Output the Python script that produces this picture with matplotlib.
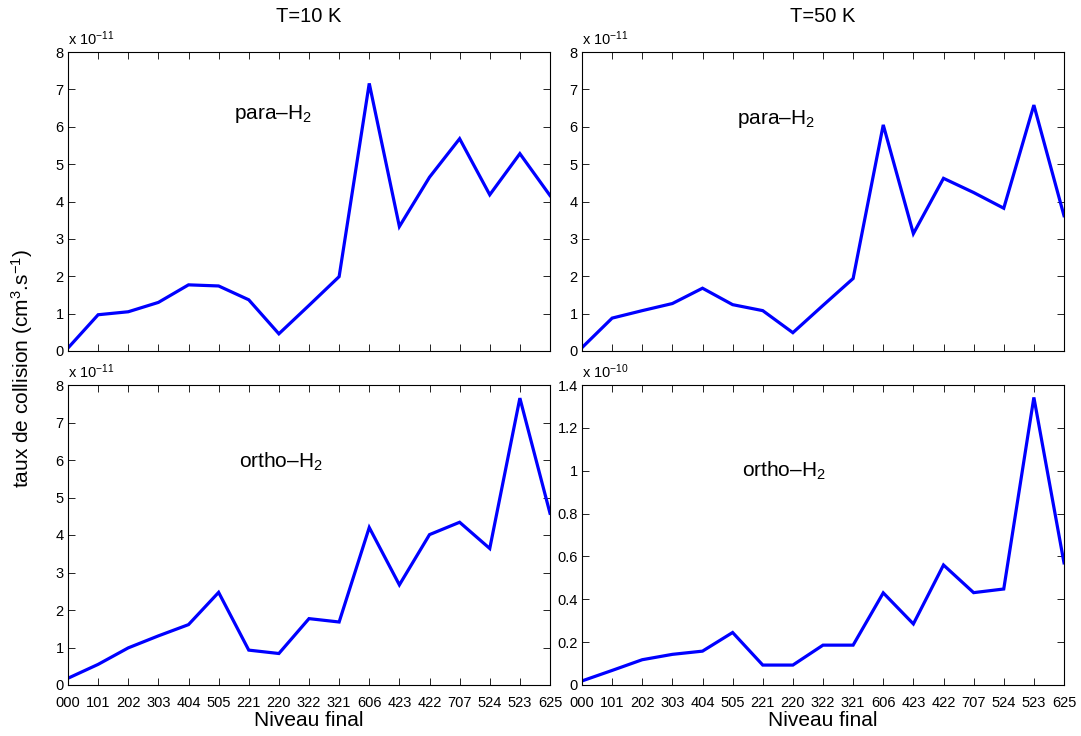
import matplotlib
matplotlib.use("Agg")
import matplotlib.pyplot as plt
from matplotlib.ticker import FormatStrFormatter

plt.rcParams['font.family'] = ['Liberation Sans', 'DejaVu Sans']
plt.rcParams['mathtext.fontset'] = 'custom'
plt.rcParams['mathtext.rm'] = 'Liberation Sans'
plt.rcParams['mathtext.it'] = 'Liberation Sans'

levels = ["000", "101", "202", "303", "404", "505", "221", "220", "322",
          "321", "606", "423", "422", "707", "524", "523", "625"]

# values in units of the scale shown above each panel
para_10K = [0.08, 0.97, 1.05, 1.30, 1.77, 1.74, 1.37, 0.46, 1.22,
            1.99, 7.16, 3.33, 4.65, 5.68, 4.18, 5.28, 4.16]       # x 1e-11
para_50K = [0.09, 0.88, 1.08, 1.27, 1.68, 1.24, 1.08, 0.49, 1.22,
            1.94, 6.05, 3.14, 4.62, 4.24, 3.82, 6.58, 3.62]       # x 1e-11
ortho_10K = [0.18, 0.55, 0.99, 1.31, 1.61, 2.47, 0.93, 0.84, 1.77,
             1.68, 4.20, 2.67, 4.01, 4.34, 3.64, 7.65, 4.58]      # x 1e-11
ortho_50K = [0.019, 0.068, 0.118, 0.143, 0.158, 0.245, 0.093, 0.093, 0.186,
             0.186, 0.430, 0.285, 0.560, 0.431, 0.448, 1.342, 0.570]  # x 1e-10

titles = ["T=10 K", "T=50 K"]
scales = ["x 10$^{-11}$", "x 10$^{-11}$", "x 10$^{-11}$", "x 10$^{-10}$"]
labels = ["para\u2013H$_2$", "para\u2013H$_2$", "ortho\u2013H$_2$", "ortho\u2013H$_2$"]
ylims = [(0, 8), (0, 8), (0, 8), (0, 1.4)]
yticks = [list(range(0, 9)), list(range(0, 9)), list(range(0, 9)),
          [0, 0.2, 0.4, 0.6, 0.8, 1.0, 1.2, 1.4]]
label_pos = [(5.5, 6.33), (5.13, 6.2), (5.69, 5.94), (5.3, 1.0)]

W, H = 1081, 736
fig = plt.figure(figsize=(W / 100, H / 100), dpi=100)

def rect(x0, y0, x1, y1):
    return [x0 / W, 1 - y1 / H, (x1 - x0) / W, (y1 - y0) / H]

rects = [rect(68, 52, 550, 351), rect(582, 52, 1064, 351),
         rect(68, 385, 550, 685), rect(582, 385, 1064, 685)]
series = [para_10K, para_50K, ortho_10K, ortho_50K]
x = list(range(len(levels)))

for i, (r, s) in enumerate(zip(rects, series)):
    ax = fig.add_axes(r)
    ax.plot(x, s, color=(0, 0, 1), lw=2.3, solid_joinstyle='miter')
    ax.set_xlim(0, len(levels) - 1)
    ax.set_ylim(*ylims[i])
    ax.set_xticks(x)
    ax.set_yticks(yticks[i])
    ax.yaxis.set_major_formatter(FormatStrFormatter('%g'))
    ax.tick_params(direction='in', top=True, right=True, length=5,
                   width=0.6, labelsize=10.5)
    ax.tick_params(axis='y', pad=3)
    ax.tick_params(axis='x', pad=8)
    if i < 2:
        ax.set_xticklabels([])
    else:
        ax.set_xticklabels(levels)
        ax.set_xlabel("Niveau final", fontsize=15, labelpad=1)
    for sp in ax.spines.values():
        sp.set_linewidth(0.8)
    ax.text(0.0, 1.012, scales[i], transform=ax.transAxes,
            fontsize=10.5, ha='left', va='bottom')
    ax.text(label_pos[i][0], label_pos[i][1], labels[i], fontsize=15,
            ha='left', va='center')
    if i < 2:
        fig.text(r[0] + r[2] / 2, 1 - 16.5 / H, titles[i], fontsize=14.5,
                 ha='center', va='center')

fig.text(0.02, 0.5, "taux de collision (cm$^3$.s$^{-1}$)", rotation=90,
         fontsize=15, ha='center', va='center')

fig.savefig("out.png", dpi=100)
